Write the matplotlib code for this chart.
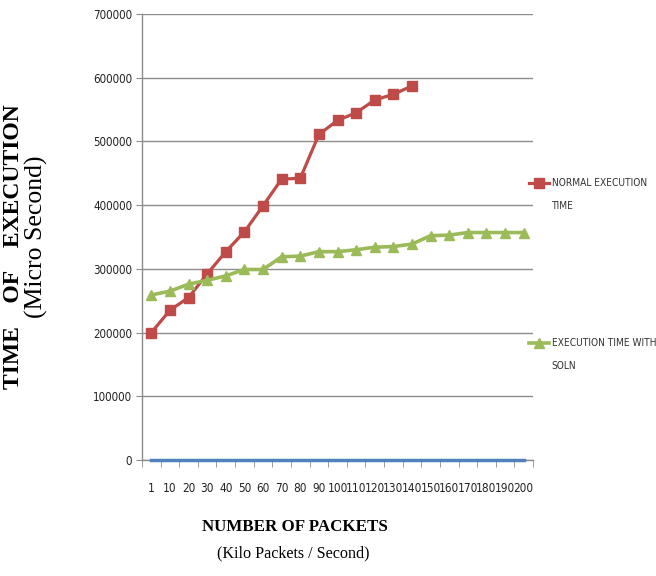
import numpy as np
import matplotlib
matplotlib.use("Agg")
import matplotlib.pyplot as plt
from matplotlib.legend_handler import HandlerLine2D

# Packet rates (kilo packets / second) shown as categories
packets = ["1", "10", "20", "30", "40", "50", "60", "70", "80", "90", "100",
           "110", "120", "130", "140", "150", "160", "170", "180", "190", "200"]

# Execution time in microseconds
normal_time = [200000, 235000, 255000, 292000, 327000, 358000, 399000, 441000,
               442000, 511000, 533000, 545000, 565000, 574000, 587000]
soln_time = [259000, 265000, 276000, 282000, 289000, 299000, 299000, 319000,
             320000, 327000, 327000, 330000, 334000, 335000, 339000, 352000,
             353000, 357000, 357000, 357000, 357000]
baseline = [0] * 21

y_ticks = [0, 100000, 200000, 300000, 400000, 500000, 600000, 700000]

RED = "#BE4B48"
GREEN = "#9BBB59"
BLUE = "#4F81BD"
GRID = "#8C8C8C"
W, H = 656, 576

tick_font = ["DejaVu Sans"]
serif_font = ["Liberation Serif", "DejaVu Serif"]


class RaisedLineHandler(HandlerLine2D):
    """Line handle lifted so it sits level with the first label line."""

    def __init__(self, lift, **kw):
        super().__init__(**kw)
        self.lift = lift

    def create_artists(self, legend, orig_handle, xdescent, ydescent,
                       width, height, fontsize, trans):
        return super().create_artists(legend, orig_handle, xdescent,
                                      ydescent - self.lift, width, height,
                                      fontsize, trans)


fig = plt.figure(figsize=(W / 100, H / 100), dpi=100)
ax = fig.add_axes([142 / W, 1 - 460 / H, (533 - 142) / W, (460 - 14) / H])

x = np.arange(len(packets))
red_line, = ax.plot(x[:len(normal_time)], normal_time, color=RED, lw=2.3,
                    marker="s", markersize=6.5, label="NORMAL EXECUTION\nTIME")
green_line, = ax.plot(x, soln_time, color=GREEN, lw=2.6, marker="^",
                      markersize=7, label="EXECUTION TIME WITH\nSOLN")
ax.plot(x, baseline, color=BLUE, lw=2.5, label="_nolegend_", zorder=3,
        clip_on=False)

ax.set_xlim(-0.5, len(packets) - 0.5)
ax.set_ylim(0, 700000)
ax.set_yticks(y_ticks)
ax.set_yticklabels([str(v) for v in y_ticks], family=tick_font,
                   fontstretch="condensed", fontsize=8.3)
ax.set_xticks(x)
ax.set_xticklabels(packets, family=tick_font, fontstretch="condensed",
                   fontsize=8.5)
ax.set_xticks(np.arange(-0.5, len(packets), 1), minor=True)

ax.yaxis.grid(True, color=GRID, lw=1)
ax.set_axisbelow(True)
for side in ("top", "right"):
    ax.spines[side].set_visible(False)
for side in ("left", "bottom"):
    ax.spines[side].set_color(GRID)
    ax.spines[side].set_linewidth(1)

ax.tick_params(axis="y", which="major", length=4, color=GRID, pad=3,
               labelcolor="#222222")
ax.tick_params(axis="x", which="major", length=0, pad=15.5,
               labelcolor="#222222")
ax.tick_params(axis="x", which="minor", length=5, color=GRID, direction="out")

# Legend entries placed to the right of the plot, handle level with the first line
for line, ycen in ((red_line, 183), (green_line, 343)):
    leg = fig.legend(handles=[line], loc="center left",
                     bbox_to_anchor=(529 / W, 1 - (ycen + 11.5) / H),
                     frameon=False, borderpad=0, borderaxespad=0,
                     handlelength=2.0, handletextpad=0.25, numpoints=1,
                     prop={"family": tick_font, "stretch": "condensed",
                           "size": 7.3},
                     handler_map={line: RaisedLineHandler(lift=16.5)})
    for t in leg.get_texts():
        t.set_linespacing(2.7)
        t.set_color("#333333")

# Axis titles
fig.text(14 / W, 1 - 247 / H, "TIME    OF    EXECUTION", rotation=90,
         ha="center", va="center", family=serif_font, fontweight="bold",
         fontsize=17)
fig.text(36 / W, 1 - 237 / H, "(Micro Second)", rotation=90,
         ha="center", va="center", family=serif_font, fontsize=18.5)
fig.text(295 / W, 1 - 527 / H, "NUMBER OF PACKETS", ha="center", va="center",
         family=serif_font, fontweight="bold", fontsize=12.2)
fig.text(293 / W, 1 - 553 / H, "(Kilo Packets / Second)", ha="center",
         va="center", family=serif_font, fontsize=11.6)

fig.savefig("out.png", dpi=100)
